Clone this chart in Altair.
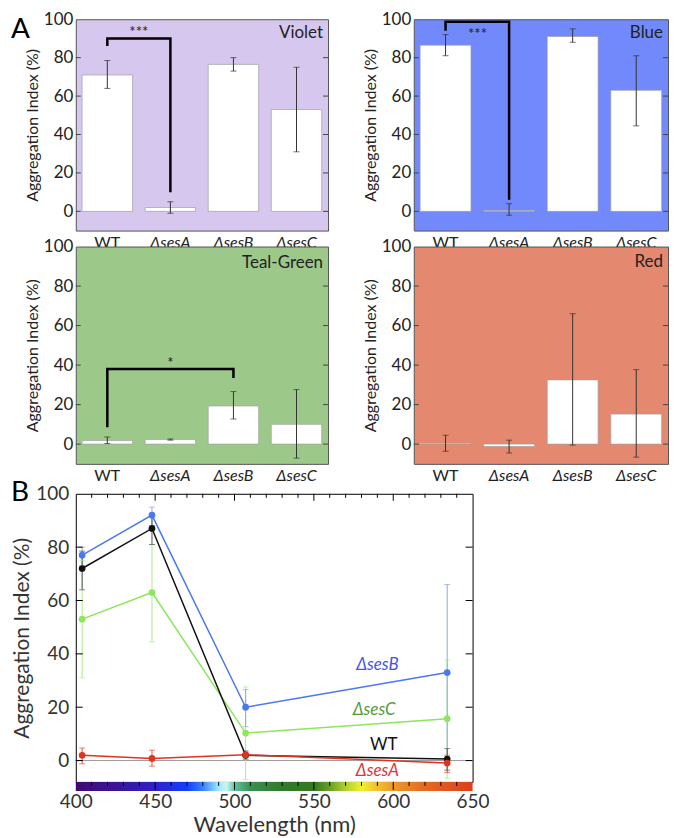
import altair as alt
import pandas as pd

# ---------------- data ----------------
strains = ["WT", "ΔsesA", "ΔsesB", "ΔsesC"]
y_ticks = [0, 20, 40, 60, 80, 100]
inner_ticks = [0, 20, 40, 60, 80]

panel_names = ["Violet", "Blue", "Teal-Green", "Red"]
panel_fills = ["#d5c7ee", "#7189fb", "#9cc98a", "#e4886f"]
panel_label_y = [93, 93, 91.5, 92]

violet_val = [71, 2, 76.5, 53]
violet_lo = [64, -1, 73, 31]
violet_hi = [78.5, 5, 80, 75]

blue_val = [86.5, 0.5, 91, 63]
blue_lo = [81, -2, 88, 44.5]
blue_hi = [92, 4, 95, 81]

green_val = [1.8, 2.3, 19.3, 10]
green_lo = [0.3, 2.0, 12.7, -7.1]
green_hi = [3.6, 2.6, 26.6, 27.6]

red_val = [0.4, -1.2, 32.5, 15.2]
red_lo = [-3.6, -4.5, -0.5, -6.6]
red_hi = [4.5, 2.0, 66, 37.7]

violet_br_x = ["WT", "WT", "ΔsesA", "ΔsesA"]
violet_br_y = [86, 90, 90, 10]
blue_br_x = ["WT", "WT", "ΔsesA", "ΔsesA"]
blue_br_y = [94, 98.7, 98.7, 6]
green_br_x = ["WT", "WT", "ΔsesB", "ΔsesB"]
green_br_y = [8.6, 38, 38, 33.5]

star_text = ["***", "***", "*"]
star_x = ["WT", "WT", "ΔsesA"]
star_y = [93.5, 92.5, 41]

letters = ["A", "B"]

# panel B
wavelengths = [404, 448, 507, 634]
b_series = ["ΔsesC", "ΔsesB", "WT", "ΔsesA"]
b_vals = {
    "WT": [72, 87, 2, 0.6],
    "ΔsesA": [2, 0.8, 2.2, -0.9],
    "ΔsesB": [77, 92, 20, 33],
    "ΔsesC": [53, 63, 10.3, 15.7],
}
b_lo = {
    "WT": [64, 81, 0.5, -3.6],
    "ΔsesA": [-1.2, -2.1, 1.9, -4.5],
    "ΔsesB": [73, 88, 12.7, -0.5],
    "ΔsesC": [31, 44.5, -7.1, -6.6],
}
b_hi = {
    "WT": [78.5, 92, 3.6, 4.5],
    "ΔsesA": [4.7, 3.9, 2.6, 2.0],
    "ΔsesB": [80, 95, 26.6, 66],
    "ΔsesC": [75, 81, 27.6, 37.7],
}
line_colors = {"WT": "#111111", "ΔsesA": "#e0331f", "ΔsesB": "#4a78ee", "ΔsesC": "#8ee65c"}
err_colors = {"WT": "#555555", "ΔsesA": "#e0503c", "ΔsesB": "#8fa8dc", "ΔsesC": "#a6ef86"}

label_text = ["ΔsesB", "ΔsesC", "WT", "ΔsesA"]
label_wl = [590, 588, 594, 590]
label_y = [36, 19, 6, -4]
label_colors = ["#3f55e6", "#4f9b3c", "#111111", "#e0333a"]

x_labels_b = [400, 450, 500, 550, 600, 650]
minor_wl = [w for w in range(400, 651, 10) if w % 50 != 0]
major_wl = [450, 500, 550, 600]
zero_line = [0]

spec_wl = [400, 425, 450, 470, 480, 490, 495, 500, 510, 530, 550, 560, 570, 580, 590, 600, 620, 650]
spec_col = ["#400a70", "#3c1496", "#3020c8", "#1040ff", "#3a80ff", "#a0e8ff", "#c8f6f0",
            "#60c0a0", "#3a9050", "#2f7a2a", "#357a20", "#6aa025", "#b0d030", "#f0f030",
            "#f0c030", "#ec9a28", "#e46a20", "#d8401a"]

# ---------------- sizes ----------------
W_L, W_R = 253, 255
H1, H2 = 212, 218
WB, HB = 398, 289
AX_TITLE = "Aggregation Index (%)"
LETTER_X = -65


def make_a(idx, vals, lo, hi, w, h, br_x=None, br_y=None, star_i=None, star_dx=0, letter=None):
    df = pd.DataFrame({"strain": strains, "val": vals, "lo": lo, "hi": hi})
    xsc = alt.Scale(domain=strains, paddingInner=0.2, paddingOuter=0.1)
    xaxis = alt.Axis(title=None, labelAngle=0, ticks=False, domain=False, labelFontSize=16,
                     labelPadding=4, labelColor="#222",
                     labelFontStyle=alt.condition("datum.value == 'WT'", alt.value("normal"), alt.value("italic")))
    ysc = alt.Scale(domain=[-10, 100], nice=False, zero=False)
    yaxis = alt.Axis(values=y_ticks, title=AX_TITLE, ticks=False, domain=False, grid=False,
                     labelFontSize=17, labelPadding=3, titleFontSize=16, titlePadding=3,
                     titleFontWeight="normal", labelColor="#222", titleColor="#222")

    def X(f):
        return alt.X(f, type="nominal", scale=xsc, axis=xaxis)

    def Y(f):
        return alt.Y(f, type="quantitative", scale=ysc, axis=yaxis)

    layers = []
    layers.append(alt.Chart(df).mark_bar(fill="white", stroke="#a0a0a0", strokeWidth=0.7)
                  .encode(x=X("strain"), y=Y("val")))
    layers.append(alt.Chart(df).mark_rule(color="#333", strokeWidth=1)
                  .encode(x=X("strain"), y=Y("lo"), y2="hi"))
    layers.append(alt.Chart(df).transform_fold(["lo", "hi"], as_=["end", "yv"])
                  .mark_tick(color="#333", thickness=1, size=6, orient="horizontal")
                  .encode(x=X("strain"), y=Y("yv")))
    tdf = pd.DataFrame({"t": inner_ticks})
    layers.append(alt.Chart(tdf).mark_rule(color="#444")
                  .encode(y=Y("t"), x=alt.value(0), x2=alt.value(5)))
    layers.append(alt.Chart(tdf).mark_rule(color="#444")
                  .encode(y=Y("t"), x=alt.value(w - 5), x2=alt.value(w)))
    ldf = pd.DataFrame({"name": [panel_names[idx]], "ly": [panel_label_y[idx]]})
    layers.append(alt.Chart(ldf).mark_text(align="right", baseline="middle", fontSize=17, color="#222")
                  .encode(x=alt.value(w - 5), y=Y("ly"), text="name"))
    if br_x is not None:
        bdf = pd.DataFrame({"bx": br_x, "by": br_y, "o": list(range(len(br_x)))})
        layers.append(alt.Chart(bdf).mark_line(color="black", strokeWidth=2.5, strokeJoin="miter")
                      .encode(x=X("bx"), y=Y("by"), order="o:Q"))
    if star_i is not None:
        sdf = pd.DataFrame({"s": [star_text[star_i]], "sx": [star_x[star_i]], "sy": [star_y[star_i]]})
        layers.append(alt.Chart(sdf).mark_text(dx=star_dx, fontSize=15, baseline="middle", color="#222")
                      .encode(x=X("sx"), y=Y("sy"), text="s"))
    if letter is not None:
        adf = pd.DataFrame({"L": [letter]})
        layers.append(alt.Chart(adf).mark_text(align="left", baseline="alphabetic", fontSize=28, color="black")
                      .encode(x=alt.value(LETTER_X), y=alt.value(19), text="L"))
    return alt.layer(*layers).properties(
        width=w, height=h,
        view=alt.ViewBackground(fill=panel_fills[idx], stroke="#555", strokeWidth=1))


violet = make_a(0, violet_val, violet_lo, violet_hi, W_L, H1, violet_br_x, violet_br_y, 0, 31.6, letters[0])
blue = make_a(1, blue_val, blue_lo, blue_hi, W_R, H1, blue_br_x, blue_br_y, 1, 32)
green = make_a(2, green_val, green_lo, green_hi, W_L, H2, green_br_x, green_br_y, 2, 0)
red = make_a(3, red_val, red_lo, red_hi, W_R, H2)

top = alt.concat(violet, blue, green, red, columns=2,
                 spacing={"row": 16, "column": 86}, bounds="flush", align="each")

# ---------------- panel B ----------------
rows = []
for s in b_series:
    for i, wl in enumerate(wavelengths):
        rows.append({"series": s, "wl": wl, "val": b_vals[s][i], "lo": b_lo[s][i], "hi": b_hi[s][i],
                     "lc": line_colors[s], "ec": err_colors[s], "o": i})
bdf = pd.DataFrame(rows)

xs_b = alt.Scale(domain=[400, 650], nice=False, zero=False)
xax_b = alt.Axis(values=x_labels_b, title="Wavelength (nm)", ticks=False, tickSize=0, domain=False,
                 grid=False, labelFontSize=19, labelPadding=11, titleFontSize=22, titlePadding=3,
                 titleFontWeight="normal", labelColor="#333", titleColor="#333", labelFlush=False)
ys_b = alt.Scale(domain=[-8, 100], nice=False, zero=False)
yax_b = alt.Axis(values=y_ticks, title=AX_TITLE, ticks=False, tickSize=0, domain=False, grid=False,
                 labelFontSize=19, labelPadding=7, titleFontSize=21, titlePadding=3,
                 titleFontWeight="normal", labelColor="#333", titleColor="#333")


def XB(f):
    return alt.X(f, type="quantitative", scale=xs_b, axis=xax_b)


def YB(f):
    return alt.Y(f, type="quantitative", scale=ys_b, axis=yax_b)


blayers = []
blayers.append(alt.Chart(pd.DataFrame({"z": zero_line})).mark_rule(color="#999", strokeWidth=1)
               .encode(y=YB("z")))
blayers.append(alt.Chart(bdf).mark_rule(strokeWidth=1)
               .encode(x=XB("wl"), y=YB("lo"), y2="hi", color=alt.Color("ec:N", scale=None)))
blayers.append(alt.Chart(bdf).transform_fold(["lo", "hi"], as_=["end", "yv"])
               .mark_tick(thickness=1, size=6, orient="horizontal")
               .encode(x=XB("wl"), y=YB("yv"), color=alt.Color("ec:N", scale=None)))
blayers.append(alt.Chart(bdf).mark_line(strokeWidth=1.5)
               .encode(x=XB("wl"), y=YB("val"), color=alt.Color("lc:N", scale=None),
                       detail="series:N", order="o:Q"))
blayers.append(alt.Chart(bdf).mark_circle(size=45, opacity=1)
               .encode(x=XB("wl"), y=YB("val"), color=alt.Color("lc:N", scale=None)))

ldf_b = pd.DataFrame({"t": label_text, "wl": label_wl, "y": label_y, "c": label_colors})
blayers.append(alt.Chart(ldf_b).transform_filter("datum.t != 'WT'")
               .mark_text(fontSize=17, fontStyle="italic", baseline="middle")
               .encode(x=XB("wl"), y=YB("y"), text="t:N", color=alt.Color("c:N", scale=None)))
blayers.append(alt.Chart(ldf_b).transform_filter("datum.t == 'WT'")
               .mark_text(fontSize=17, baseline="middle")
               .encode(x=XB("wl"), y=YB("y"), text="t:N", color=alt.Color("c:N", scale=None)))

# colour spectrum bar under the plot
stops = [{"offset": (w - 400) / 250, "color": c} for w, c in zip(spec_wl, spec_col)]
cbar = pd.DataFrame({"a": [spec_wl[0]], "b": [spec_wl[-1]]})
blayers.append(alt.Chart(cbar).mark_rect(
    fill={"gradient": "linear", "x1": 0, "x2": 1, "y1": 0, "y2": 0, "stops": stops})
    .encode(x=XB("a"), x2="b", y=alt.value(HB), y2=alt.value(HB + 9)))

mdf = pd.DataFrame({"t": minor_wl})
Mdf = pd.DataFrame({"t": major_wl})
blayers.append(alt.Chart(mdf).mark_rule(color="black").encode(x=XB("t"), y=alt.value(0), y2=alt.value(4)))
blayers.append(alt.Chart(Mdf).mark_rule(color="black").encode(x=XB("t"), y=alt.value(0), y2=alt.value(7)))
blayers.append(alt.Chart(mdf).mark_rule(color="black").encode(x=XB("t"), y=alt.value(HB), y2=alt.value(HB + 4)))
blayers.append(alt.Chart(Mdf).mark_rule(color="black").encode(x=XB("t"), y=alt.value(HB), y2=alt.value(HB + 8)))
tdf_b = pd.DataFrame({"t": inner_ticks})
blayers.append(alt.Chart(tdf_b).mark_rule(color="black").encode(y=YB("t"), x=alt.value(0), x2=alt.value(7)))
blayers.append(alt.Chart(tdf_b).mark_rule(color="black").encode(y=YB("t"), x=alt.value(WB - 7), x2=alt.value(WB)))
blayers.append(alt.Chart(pd.DataFrame({"L": [letters[1]]}))
               .mark_text(align="left", baseline="alphabetic", fontSize=28, color="black")
               .encode(x=alt.value(LETTER_X), y=alt.value(7), text="L"))

bchart = alt.layer(*blayers).properties(
    width=WB, height=HB,
    view=alt.ViewBackground(fill="white", stroke="black", strokeWidth=1))

chart = alt.vconcat(top, bchart, spacing=-7).properties(
    padding={"left": 2, "top": 0, "right": 0, "bottom": 0}
).configure(font="Lato", background="white")

chart.save("out.html", embed_options={"renderer": "svg", "actions": False})
